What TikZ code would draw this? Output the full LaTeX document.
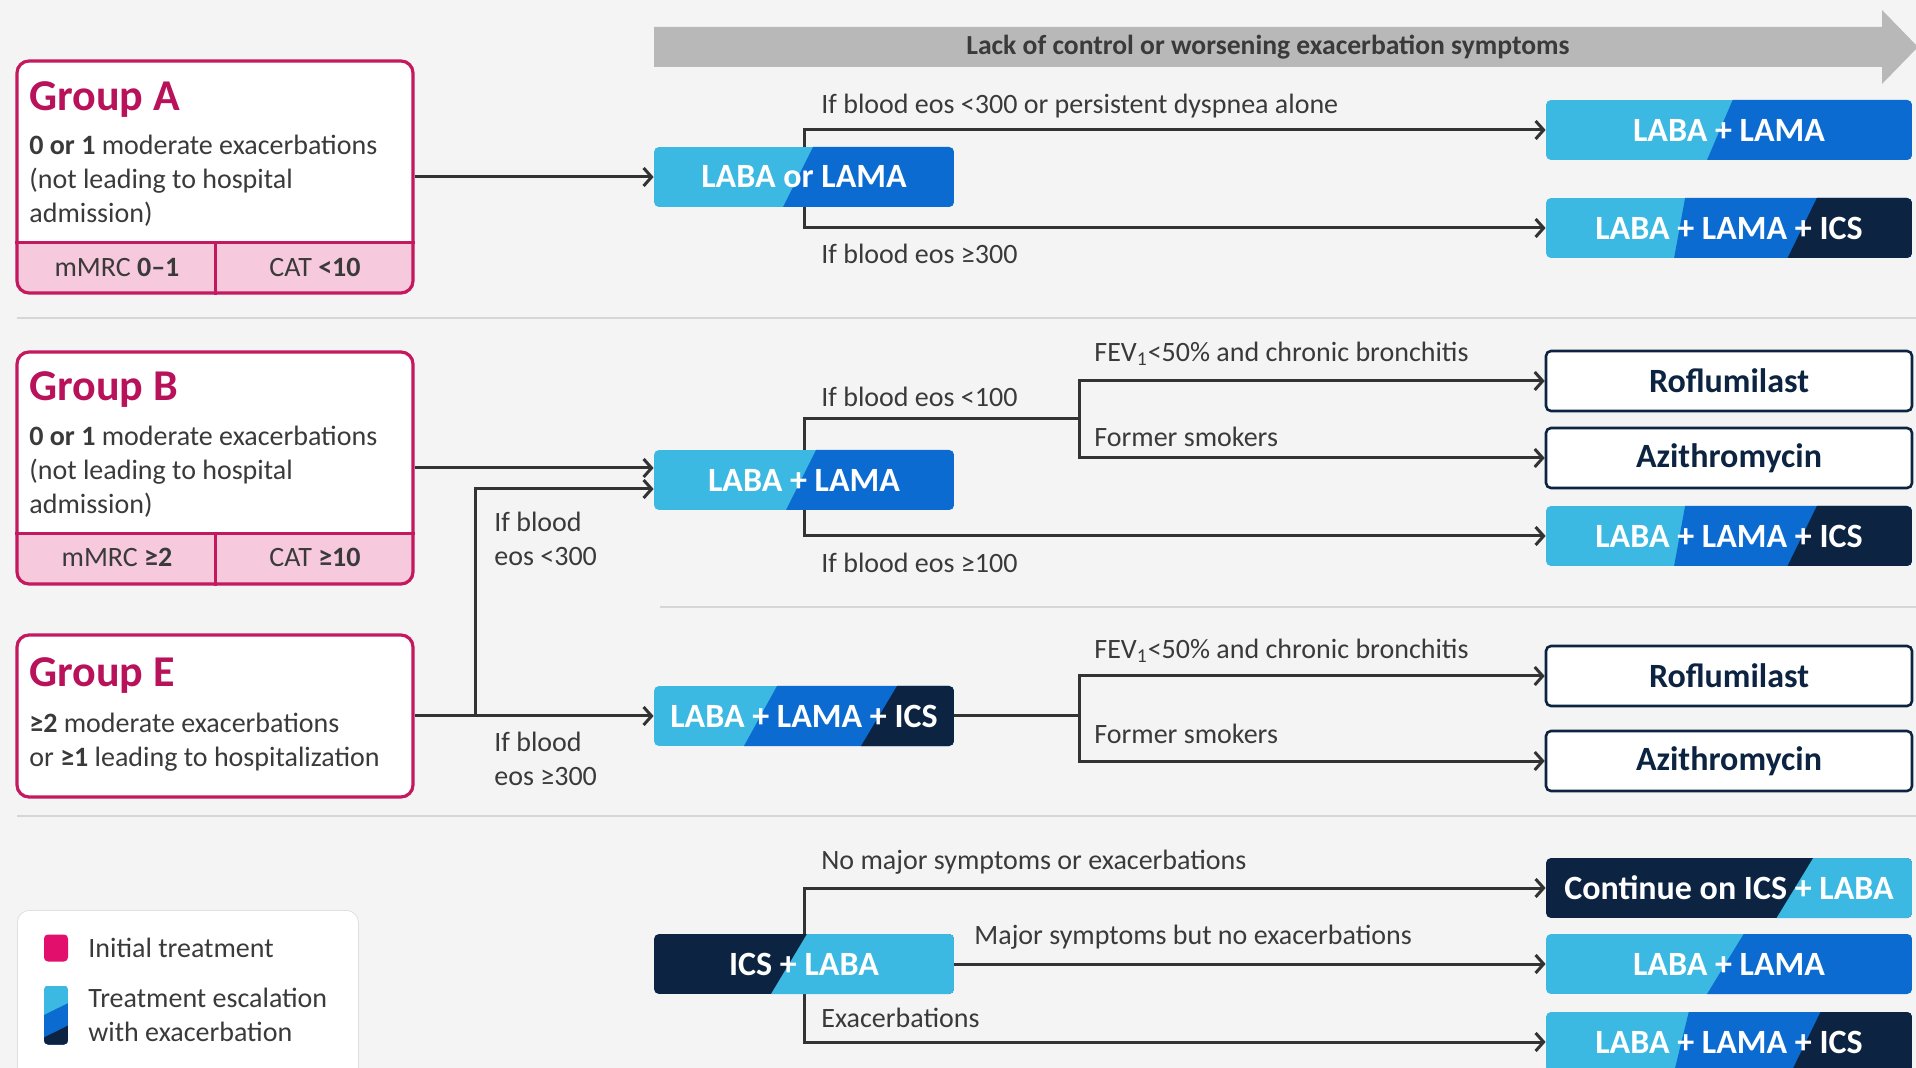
\documentclass[tikz,border=0pt]{standalone}
\usepackage{fontspec}
\setmainfont{Carlito}
\usetikzlibrary{arrows.meta,calc}
\definecolor{bgc}{HTML}{F4F4F4}
\definecolor{cyanL}{HTML}{3BB9E2}
\definecolor{blueM}{HTML}{0B6BD0}
\definecolor{navy}{HTML}{0C2441}
\definecolor{mag}{HTML}{C4185F}
\definecolor{magT}{HTML}{B8125A}
\definecolor{pinkS}{HTML}{F6C9DD}
\definecolor{txt}{HTML}{3A3A3A}
\definecolor{linec}{HTML}{333333}
\definecolor{sepc}{HTML}{D6D6D6}
\definecolor{arrg}{HTML}{B8B8B8}
\definecolor{legp}{HTML}{E2106C}
\pgfdeclarelayer{bg}
\pgfdeclarelayer{lines}
\pgfsetlayers{bg,lines,main}
\tikzset{
  every node/.style={font=\fontsize{14}{17}\selectfont, text=txt, inner sep=0pt},
  lbl/.style={anchor=west},
  gtitle/.style={anchor=west, font=\fontsize{22}{26}\selectfont\bfseries, text=magT},
  tbox/.style={rounded corners=2.5pt, minimum width=150pt, minimum height=30pt,
    font=\fontsize{17}{20}\selectfont\bfseries, text=white},
  rbox/.style={tbox, minimum width=183pt},
  wbox/.style={rbox, fill=white, draw=navy, line width=1.3pt, text=navy},
  two/.style n args={4}{path picture={
    \fill[#1, sharp corners] (path picture bounding box.south west) rectangle (path picture bounding box.north east);
    \fill[#2, sharp corners] ($(path picture bounding box.north west)!#3!(path picture bounding box.north east)$)
      -- (path picture bounding box.north east) -- (path picture bounding box.south east)
      -- ($(path picture bounding box.south west)!#4!(path picture bounding box.south east)$) -- cycle;
  }},
  three/.style n args={7}{path picture={
    \fill[#1, sharp corners] (path picture bounding box.south west) rectangle (path picture bounding box.north east);
    \fill[#2, sharp corners] ($(path picture bounding box.north west)!#4!(path picture bounding box.north east)$)
      -- (path picture bounding box.north east) -- (path picture bounding box.south east)
      -- ($(path picture bounding box.south west)!#5!(path picture bounding box.south east)$) -- cycle;
    \fill[#3, sharp corners] ($(path picture bounding box.north west)!#6!(path picture bounding box.north east)$)
      -- (path picture bounding box.north east) -- (path picture bounding box.south east)
      -- ($(path picture bounding box.south west)!#7!(path picture bounding box.south east)$) -- cycle;
  }},
  conn/.style={draw=linec, line width=1.5pt},
  arr/.style={conn, -{Straight Barb[length=4pt,width=9pt]}},
  gbox/.style={draw=mag, line width=1.6pt, fill=white, rounded corners=6pt, minimum width=198pt},
  gstrip/.style={path picture={
    \fill[pinkS, sharp corners] (path picture bounding box.south west) rectangle ($(path picture bounding box.south east)+(0pt,26pt)$);
  }},
  gline/.style={draw=mag, line width=1.6pt},
  sepline/.style={draw=sepc, line width=0.8pt},
  lgrad/.style={path picture={
    \fill[cyanL, sharp corners] (path picture bounding box.south west) rectangle (path picture bounding box.north east);
    \fill[blueM, sharp corners] ($(path picture bounding box.north west)!0.5!(path picture bounding box.south west)$)
      -- ($(path picture bounding box.north east)!0.3!(path picture bounding box.south east)$)
      -- (path picture bounding box.south east) -- (path picture bounding box.south west) -- cycle;
    \fill[navy, sharp corners] ($(path picture bounding box.north west)!0.88!(path picture bounding box.south west)$)
      -- ($(path picture bounding box.north east)!0.68!(path picture bounding box.south east)$)
      -- (path picture bounding box.south east) -- (path picture bounding box.south west) -- cycle;
  }},
}
\begin{document}
\begin{tikzpicture}[x=0.5pt, y=-0.5pt]
\useasboundingbox (0,0) rectangle (1916,1068);
\begin{pgfonlayer}{bg}
  \fill[bgc] (0,0) rectangle (1916,1068);
  \draw[sepline] (17,318) -- (1916,318);
  \draw[sepline] (660,607) -- (1916,607);
  \draw[sepline] (17,816) -- (1916,816);
  \fill[arrg] (654,27) -- (1882,27) -- (1882,10) -- (1918,47) -- (1882,84) -- (1882,67) -- (654,67) -- cycle;
\end{pgfonlayer}
\node[font=\fontsize{13.8}{16}\selectfont\bfseries, text=txt] (banner) at (1268,47) {Lack of control or worsening exacerbation symptoms};

% Group boxes
\node[gbox, gstrip, minimum height=116pt] (gA) at (215,177) {};
\draw[gline] ($(gA.south west)+(0pt,26pt)$) -- ($(gA.south east)+(0pt,26pt)$);
\draw[gline] ($(gA.south west)+(100pt,0pt)$) -- ++(0pt,26pt);
\node[gtitle] (tA) at (29,100) {Group A};
\node[anchor=west, align=left] (bA) at (29,181) {\textbf{0 or 1} moderate exacerbations\\(not leading to hospital\\admission)};
\node (sA1) at (117,267) {mMRC \textbf{0–1}};
\node (sA2) at (315,267) {CAT \textbf{<10}};

\node[gbox, gstrip, minimum height=116pt] (gB) at (215,468) {};
\draw[gline] ($(gB.south west)+(0pt,26pt)$) -- ($(gB.south east)+(0pt,26pt)$);
\draw[gline] ($(gB.south west)+(100pt,0pt)$) -- ++(0pt,26pt);
\node[gtitle] (tB) at (29,390) {Group B};
\node[anchor=west, align=left] (bB) at (29,472) {\textbf{0 or 1} moderate exacerbations\\(not leading to hospital\\admission)};
\node (sB1) at (117,557) {mMRC \textbf{≥2}};
\node (sB2) at (315,557) {CAT \textbf{≥10}};

\node[gbox, minimum height=81pt] (gE) at (215,716) {};
\node[gtitle] (tE) at (29,676) {Group E};
\node[anchor=west, align=left] (bE) at (29,742) {\textbf{≥2} moderate exacerbations\\or \textbf{≥1} leading to hospitalization};

% Treatment boxes
\node[tbox, two={cyanL}{blueM}{0.53}{0.43}] (lo) at (804,177) {LABA or LAMA};
\node[rbox, two={cyanL}{blueM}{0.51}{0.44}] (rA1) at (1729,130) {LABA + LAMA};
\node[rbox, three={cyanL}{blueM}{navy}{0.38}{0.35}{0.74}{0.66}] (rA2) at (1729,228) {LABA + LAMA + ICS};

\node[tbox, two={cyanL}{blueM}{0.54}{0.44}] (mB) at (804,480) {LABA + LAMA};
\node[wbox] (rB1) at (1729,381) {Roflumilast};
\node[wbox] (rB2) at (1729,458) {Azithromycin};
\node[rbox, three={cyanL}{blueM}{navy}{0.38}{0.35}{0.74}{0.66}] (rB3) at (1729,536) {LABA + LAMA + ICS};

\node[tbox, three={cyanL}{blueM}{navy}{0.41}{0.30}{0.81}{0.69}] (mE) at (804,716) {LABA + LAMA + ICS};
\node[wbox] (rE1) at (1729,676) {Roflumilast};
\node[wbox] (rE2) at (1729,761) {Azithromycin};

\node[tbox, two={navy}{cyanL}{0.51}{0.39}] (mI) at (804,964) {ICS + LABA};
\node[rbox, two={navy}{cyanL}{0.73}{0.63}] (rI1) at (1729,888) {Continue on ICS + LABA};
\node[rbox, two={cyanL}{blueM}{0.54}{0.44}] (rI2) at (1729,964) {LABA + LAMA};
\node[rbox, three={cyanL}{blueM}{navy}{0.39}{0.35}{0.75}{0.67}] (rI3) at (1729,1042) {LABA + LAMA + ICS};

% Connectors
\coordinate (jGE) at (475,716);
\coordinate (jB) at (1079,419);
\coordinate (jE) at (1079,716);
\begin{pgfonlayer}{lines}
  \draw[arr] (gA.east) -- (lo.west);
  \draw[arr] (lo.center) |- (rA1.west);
  \draw[arr] (lo.center) |- (rA2.west);
  \draw[arr] (gB.east) -- (gB.east -| mB.west);
  \draw[arr] (jGE) |- ($(mB.west)+(0,9)$);
  \draw[arr] (gE.east) -- (mE.west);
  \draw[conn] (mB.center) |- (jB);
  \draw[arr] (jB) |- (rB1.west);
  \draw[arr] (jB) |- (rB2.west);
  \draw[arr] (mB.center) |- (rB3.west);
  \draw[conn] (mE.east) -- (jE);
  \draw[arr] (jE) |- (rE1.west);
  \draw[arr] (jE) |- (rE2.west);
  \draw[arr] (mI.center) |- (rI1.west);
  \draw[arr] (mI.east) -- (rI2.west);
  \draw[arr] (mI.center) |- (rI3.west);
\end{pgfonlayer}

% Labels
\node[lbl] (L1) at (821,106) {If blood eos <300 or persistent dyspnea alone};
\node[lbl] (L2) at (821,254) {If blood eos ≥300};
\node[lbl, align=left] (L3) at (494,539) {If blood\\eos <300};
\node[lbl, align=left] (L4) at (494,759) {If blood\\eos ≥300};
\node[lbl] (L5) at (821,397) {If blood eos <100};
\node[lbl] (L6) at (1094,354) {FEV\textsubscript{1}<50\% and chronic bronchitis};
\node[lbl] (L7) at (1094,437) {Former smokers};
\node[lbl] (L8) at (821,563) {If blood eos ≥100};
\node[lbl] (L9) at (1094,651) {FEV\textsubscript{1}<50\% and chronic bronchitis};
\node[lbl] (L10) at (1094,734) {Former smokers};
\node[lbl] (L11) at (821,862) {No major symptoms or exacerbations};
\node[lbl] (L12) at (974,937) {Major symptoms but no exacerbations};
\node[lbl] (L13) at (821,1018) {Exacerbations};

% Legend
\node[draw=gray!25, fill=white, rounded corners=6pt, minimum width=170.5pt, minimum height=85pt, anchor=north west] (leg) at (17,910) {};
\node[fill=legp, rounded corners=2pt, minimum width=12pt, minimum height=13.5pt] (lp) at (56,948) {};
\node[rounded corners=2pt, minimum width=12pt, minimum height=29.5pt, lgrad] (lgb) at (56,1015) {};
\node[lbl] (l1) at (88,948) {Initial treatment};
\node[lbl, align=left] (l2) at (88,1015) {Treatment escalation\\with exacerbation};
\end{tikzpicture}
\end{document}
